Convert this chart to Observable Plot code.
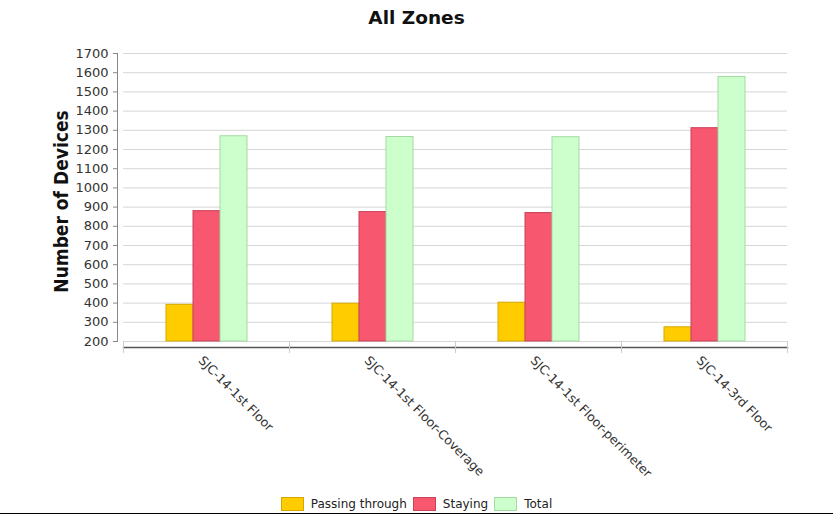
<!DOCTYPE html>
<html>
<head>
<meta charset="utf-8">
<script src="https://cdn.jsdelivr.net/npm/d3@7"></script>
<script src="https://cdn.jsdelivr.net/npm/@observablehq/plot@0.6"></script>
<style>
  html, body { margin: 0; padding: 0; background: #fff; }
  body { width: 833px; height: 518px; overflow: hidden; font-family: "DejaVu Sans", sans-serif; }
  #title { height: 36px; line-height: 36px; text-align: center; font-weight: bold; font-size: 18.5px; color: #111; }
  #chart svg { display: block; }
  #legend { height: 28px; border-bottom: 1px solid #000; display: flex; justify-content: center; align-items: flex-start; padding-top: 11px; box-sizing: border-box; font-size: 12px; color: #222; }
  .item { display: flex; align-items: center; margin: 0 3px; }
  .sw { width: 23px; height: 14px; margin-right: 7px; box-sizing: border-box; border: 1px solid; }
</style>
</head>
<body>
<div id="title">All Zones</div>
<div id="chart"></div>
<div id="legend"></div>
<script>
const zones = ["SJC-14-1st Floor", "SJC-14-1st Floor-Coverage", "SJC-14-1st Floor-perimeter", "SJC-14-3rd Floor"];
const seriesNames = ["Passing through", "Staying", "Total"];
const passing = [391, 397, 402, 274];
const staying = [879, 874, 869, 1311];
const total = [1269, 1265, 1264, 1578];
const yTicks = [200, 300, 400, 500, 600, 700, 800, 900, 1000, 1100, 1200, 1300, 1400, 1500, 1600, 1700];
const fills = ["#FFCC00", "#F7576F", "#CCFFCC"];
const strokes = ["#D4A800", "#C8435A", "#A3D9A3"];

const valuesBySeries = [passing, staying, total];
const rows = seriesNames.map((s, k) => zones.map((z, i) => ({zone: z, series: s, value: valuesBySeries[k][i]})));

const chart = Plot.plot({
  width: 833,
  height: 450,
  marginLeft: 122,
  marginRight: 45,
  marginTop: 17,
  marginBottom: 145,
  style: {fontFamily: "DejaVu Sans, sans-serif", fontSize: "13px", color: "#333", background: "#fff"},
  fx: {domain: zones, padding: 0, label: null},
  x: {domain: seriesNames, paddingInner: 0, paddingOuter: 1.5, axis: null},
  y: {domain: [200, 1700], label: null},
  marks: [
    Plot.gridY(yTicks, {stroke: "#d6d6d6", strokeOpacity: 1}),
    ...rows.map((data, k) => Plot.barY(data, {fx: "zone", x: "series", y1: yTicks[0], y2: "value", fill: fills[k], stroke: strokes[k], strokeWidth: 1})),
    Plot.axisY(yTicks, {tickSize: 4, tickPadding: 5, dx: -6, stroke: "#888", fill: "#333", fontSize: 13, tickFormat: d => String(d), facetAnchor: "left"}),
    Plot.frame({anchor: "left", dx: -6, stroke: "#888", facetAnchor: "left"}),
    Plot.frame({anchor: "bottom", dy: 6, stroke: "#555", strokeWidth: 1.5}),
    Plot.frame({anchor: "left", insetTop: 277, dy: 11, stroke: "#ccc"}),
    Plot.frame({anchor: "right", insetTop: 277, dy: 11, stroke: "#ccc", facetAnchor: "right"}),
    Plot.axisFx({anchor: "bottom", tickRotate: 45, tickSize: 0, tickPadding: 17, dx: -6, fontSize: 12.5, fill: "#333", label: null}),
    Plot.text(["Number of Devices"], {frameAnchor: "left", textAnchor: "middle", rotate: -90, dx: -62, dy: 4, fontWeight: "bold", fontSize: 19, fill: "#111", fontFamily: "DejaVu Sans Condensed, DejaVu Sans, sans-serif", facetAnchor: "left"})
  ]
});
document.getElementById("chart").appendChild(chart);

const legend = document.getElementById("legend");
seriesNames.forEach((s, k) => {
  const item = document.createElement("div");
  item.className = "item";
  const sw = document.createElement("div");
  sw.className = "sw";
  sw.style.background = fills[k];
  sw.style.borderColor = strokes[k];
  const t = document.createElement("span");
  t.textContent = s;
  item.appendChild(sw);
  item.appendChild(t);
  legend.appendChild(item);
});
</script>
</body>
</html>
